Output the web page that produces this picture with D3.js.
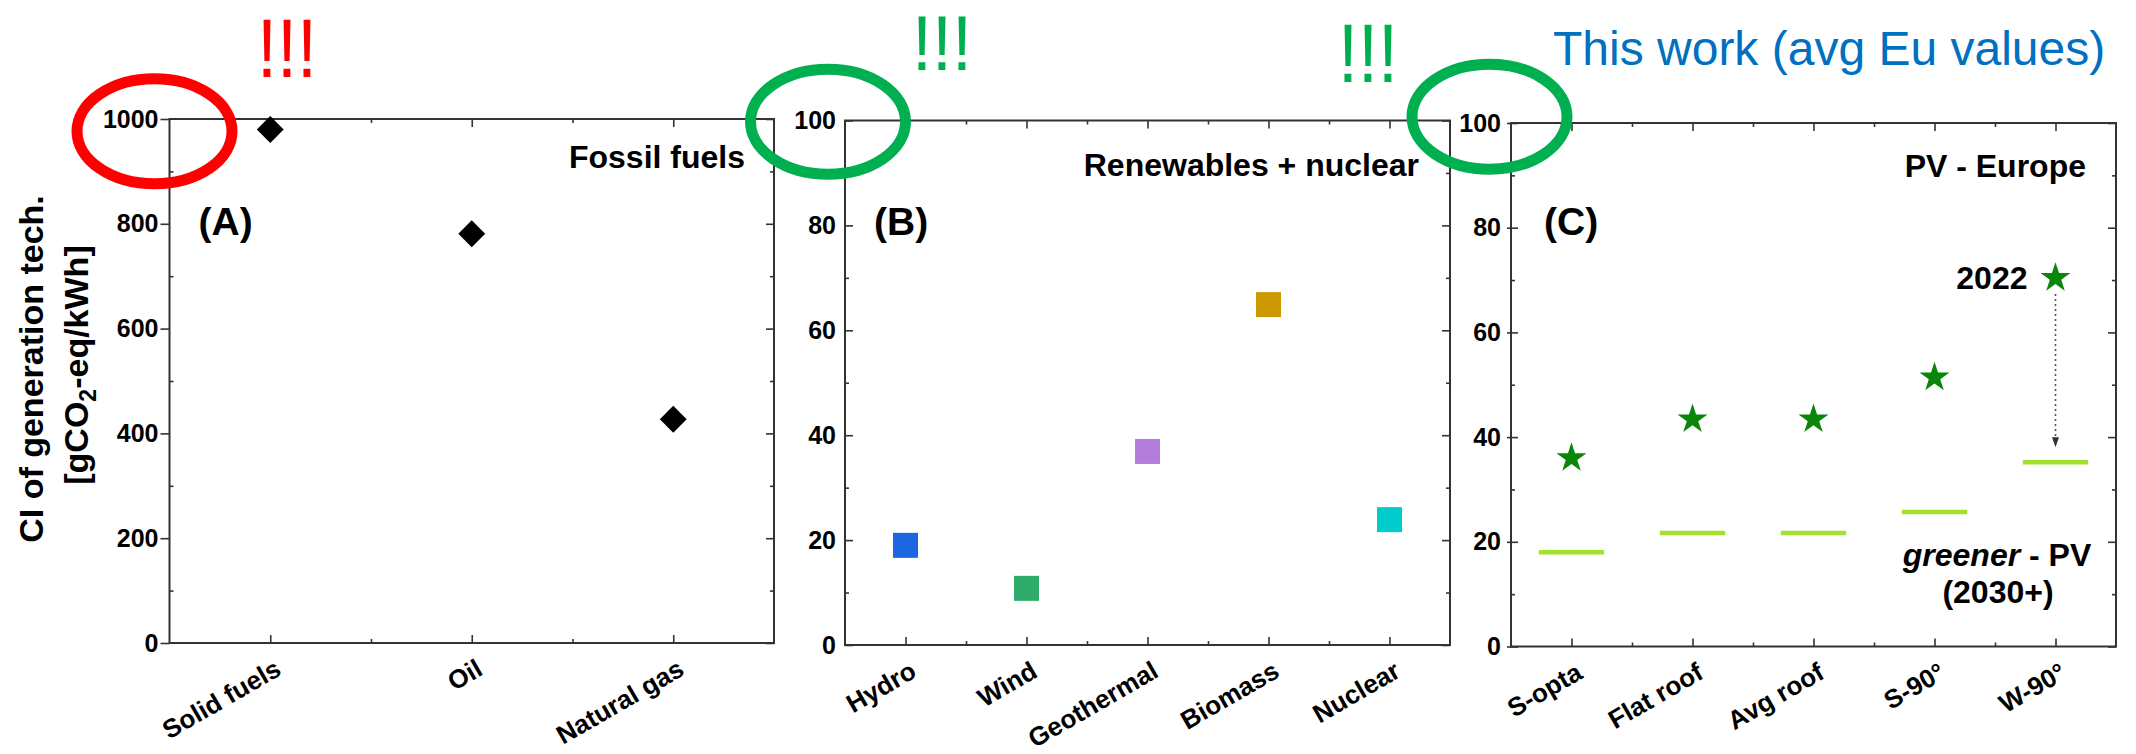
<!DOCTYPE html>
<html><head><meta charset="utf-8">
<script src="https://cdn.jsdelivr.net/npm/d3@7/dist/d3.min.js"></script>
<style>
body{margin:0;background:#fff}
svg{display:block}
text{font-family:"Liberation Sans",Arial,Helvetica,sans-serif}
</style>
</head><body>
<script>
// ---------------- data ----------------
const fossilCategories = ["Solid fuels", "Oil", "Natural gas"];
const fossilValues = [980, 781, 427];
const fossilTicks = [0, 200, 400, 600, 800, 1000];
const fossilMinorTicks = [100, 300, 500, 700, 900];

const renewCategories = ["Hydro", "Wind", "Geothermal", "Biomass", "Nuclear"];
const renewValues = [19.0, 10.8, 36.9, 64.9, 23.9];
const renewColors = ["#1a67df", "#2fac69", "#b27ddb", "#cc9900", "#00cccc"];

const pvCategories = ["S-opta", "Flat roof", "Avg roof", "S-90°", "W-90°"];
const pv2022Values = [36.0, 43.4, 43.4, 51.4, 70.4];
const pvGreenerValues = [18.0, 21.7, 21.7, 25.7, 35.2];

const pctTicks = [0, 20, 40, 60, 80, 100];
const pctMinorTicks = [10, 30, 50, 70, 90];

// ---------------- setup ----------------
const W = 2136, H = 754;
const svg = d3.select("body").append("svg").attr("width", W).attr("height", H);
const AXIS = "#333";

function makePanel(cfg) {
  const g = svg.append("g");
  const n = cfg.cats.length;
  const xi = d3.scaleLinear().domain([-0.5, n - 0.5]).range([cfg.x0, cfg.x1]);
  const y = d3.scaleLinear().domain(cfg.domain).range([cfg.yBot, cfg.yTop]);
  const majorX = d3.range(n);
  const minorX = d3.range(n - 1).map(i => i + 0.5);

  const style = sel => {
    sel.select(".domain").remove();
    sel.selectAll(".tick line").attr("stroke", AXIS).attr("stroke-width", 1.6);
    sel.attr("font-family", null).attr("font-size", null);
  };

  // bottom
  const gb = g.append("g").attr("transform", `translate(0,${cfg.yBot})`)
    .call(d3.axisBottom(xi).tickValues(majorX).tickSizeInner(-8).tickSizeOuter(0)
      .tickFormat(i => cfg.cats[i])).call(style);
  gb.selectAll(".tick text")
    .attr("x", 0).attr("y", 0).attr("dy", 0)
    .attr("text-anchor", "end")
    .attr("transform", "translate(12,31) rotate(-30)")
    .attr("font-size", 26).attr("font-weight", "bold").attr("fill", "#000");
  g.append("g").attr("transform", `translate(0,${cfg.yBot})`)
    .call(d3.axisBottom(xi).tickValues(minorX).tickSizeInner(-4).tickSizeOuter(0).tickFormat(""))
    .call(style);
  // top
  g.append("g").attr("transform", `translate(0,${cfg.yTop})`)
    .call(d3.axisTop(xi).tickValues(majorX).tickSizeInner(-8).tickSizeOuter(0).tickFormat(""))
    .call(style);
  g.append("g").attr("transform", `translate(0,${cfg.yTop})`)
    .call(d3.axisTop(xi).tickValues(minorX).tickSizeInner(-4).tickSizeOuter(0).tickFormat(""))
    .call(style);
  // left
  const gl = g.append("g").attr("transform", `translate(${cfg.x0},0)`)
    .call(d3.axisLeft(y).tickValues(cfg.ticks).tickSizeInner(cfg.leftMajor).tickSizeOuter(0)
      .tickPadding(cfg.leftPad).tickFormat(d3.format("d"))).call(style);
  gl.selectAll(".tick text").attr("font-size", 25).attr("font-weight", "bold").attr("fill", "#000");
  if (cfg.leftOut) {
    g.append("g").attr("transform", `translate(${cfg.x0},0)`)
      .call(d3.axisLeft(y).tickValues(cfg.ticks).tickSizeInner(cfg.leftOut).tickSizeOuter(0).tickFormat(""))
      .call(style);
  }
  g.append("g").attr("transform", `translate(${cfg.x0},0)`)
    .call(d3.axisLeft(y).tickValues(cfg.minor).tickSizeInner(-4).tickSizeOuter(0).tickFormat(""))
    .call(style);
  // right
  g.append("g").attr("transform", `translate(${cfg.x1},0)`)
    .call(d3.axisRight(y).tickValues(cfg.ticks).tickSizeInner(-8).tickSizeOuter(0).tickFormat(""))
    .call(style);
  g.append("g").attr("transform", `translate(${cfg.x1},0)`)
    .call(d3.axisRight(y).tickValues(cfg.minor).tickSizeInner(-4).tickSizeOuter(0).tickFormat(""))
    .call(style);
  // frame
  g.append("rect").attr("x", cfg.x0).attr("y", cfg.yTop)
    .attr("width", cfg.x1 - cfg.x0).attr("height", cfg.yBot - cfg.yTop)
    .attr("fill", "none").attr("stroke", AXIS).attr("stroke-width", 2);

  // panel letter and title
  g.append("text").attr("x", cfg.x0 + cfg.letterDx).attr("y", 235)
    .attr("font-size", 39).attr("font-weight", "bold").text(cfg.letter);
  g.append("text").attr("x", cfg.x1 - cfg.titleDx).attr("y", cfg.titleY)
    .attr("text-anchor", "end").attr("font-size", 32).attr("font-weight", "bold").text(cfg.title);
  return { g, xi, y };
}

// ---------------- panel A ----------------
const A = makePanel({
  cats: fossilCategories, x0: 169.5, x1: 774, yTop: 119, yBot: 643,
  domain: [0, 1000], ticks: fossilTicks, minor: fossilMinorTicks,
  leftMajor: 9, leftPad: 2, letter: "(A)", letterDx: 29,
  title: "Fossil fuels", titleDx: 29, titleY: 168
});
A.g.selectAll("path.fossil").data(fossilValues).join("path").attr("class", "fossil")
  .attr("d", d3.symbol(d3.symbolSquare, 361))
  .attr("transform", (d, i) => `translate(${A.xi(i)},${A.y(d)}) rotate(45)`)
  .attr("fill", "#000");

// ---------------- panel B ----------------
const B = makePanel({
  cats: renewCategories, x0: 845, x1: 1450, yTop: 120.5, yBot: 645,
  domain: [0, 100], ticks: pctTicks, minor: pctMinorTicks,
  leftMajor: -8, leftPad: 9, letter: "(B)", letterDx: 29,
  title: "Renewables + nuclear", titleDx: 31, titleY: 176
});
B.g.selectAll("path.renew").data(renewValues).join("path").attr("class", "renew")
  .attr("d", d3.symbol(d3.symbolSquare, 625))
  .attr("transform", (d, i) => `translate(${B.xi(i)},${B.y(d)})`)
  .attr("fill", (d, i) => renewColors[i]);

// ---------------- panel C ----------------
const C = makePanel({
  cats: pvCategories, x0: 1511, x1: 2116, yTop: 123, yBot: 646.5,
  domain: [0, 100], ticks: pctTicks, minor: pctMinorTicks,
  leftMajor: -7, leftOut: 4, leftPad: 10, letter: "(C)", letterDx: 33,
  title: "PV - Europe", titleDx: 30, titleY: 177
});
const half = (C.xi(1) - C.xi(0)) * 0.27;
C.g.selectAll("line.greener").data(pvGreenerValues).join("line").attr("class", "greener")
  .attr("x1", (d, i) => C.xi(i) - half).attr("x2", (d, i) => C.xi(i) + half)
  .attr("y1", d => C.y(d)).attr("y2", d => C.y(d))
  .attr("stroke", "#a2e22c").attr("stroke-width", 4.5);
C.g.selectAll("path.star").data(pv2022Values).join("path").attr("class", "star")
  .attr("d", d3.symbol(d3.symbolStar, 280))
  .attr("transform", (d, i) => `translate(${C.xi(i)},${C.y(d)})`)
  .attr("fill", "#0a860a");

// arrow from 2022 to greener on the last category
const li = pvCategories.length - 1;
const ax = C.xi(li), ay1 = C.y(pv2022Values[li]) + 16, ay2 = C.y(pvGreenerValues[li]) - 15;
C.g.append("line").attr("x1", ax).attr("x2", ax).attr("y1", ay1).attr("y2", ay2 - 9)
  .attr("stroke", "#555").attr("stroke-width", 1.6).attr("stroke-dasharray", "2,3");
C.g.append("path").attr("d", `M${ax - 3.5},${ay2 - 10}L${ax + 3.5},${ay2 - 10}L${ax},${ay2}Z`)
  .attr("fill", "#333");

C.g.append("text").attr("x", ax - 28).attr("y", C.y(pv2022Values[li]) + 11)
  .attr("text-anchor", "end").attr("font-size", 32).attr("font-weight", "bold").text("2022");
const gt = C.g.append("text").attr("x", 1997).attr("y", 566)
  .attr("text-anchor", "middle").attr("font-size", 32).attr("font-weight", "bold");
gt.append("tspan").attr("font-style", "italic").text("greener");
gt.append("tspan").text(" - PV");
C.g.append("text").attr("x", 1998).attr("y", 603)
  .attr("text-anchor", "middle").attr("font-size", 32).attr("font-weight", "bold").text("(2030+)");

// ---------------- y-axis title ----------------
svg.append("text").attr("transform", "translate(43,369) rotate(-90)")
  .attr("text-anchor", "middle").attr("font-size", 34).attr("font-weight", "bold")
  .text("CI of generation tech.");
const t2 = svg.append("text").attr("transform", "translate(88,365) rotate(-90)")
  .attr("text-anchor", "middle").attr("font-size", 34).attr("font-weight", "bold");
t2.append("tspan").text("[gCO");
t2.append("tspan").attr("font-size", 23).attr("dy", 8).text("2");
t2.append("tspan").attr("dy", -8).text("-eq/kWh]");

// ---------------- callouts ----------------
svg.append("text").attr("x", 1553).attr("y", 65).attr("font-size", 48)
  .attr("fill", "#0070c0").text("This work (avg Eu values)");

const bangs = [
  { x: 257, y: 77, f: 76, c: "#ff0000" },
  { x: 912, y: 70, f: 70, c: "#00b050" },
  { x: 1338, y: 82, f: 76, c: "#00b050" }
];
svg.selectAll("text.bang").data(bangs).join("text").attr("class", "bang")
  .attr("x", d => d.x).attr("y", d => d.y).attr("font-size", d => d.f)
  .attr("transform", d => `translate(${d.x},${d.y}) scale(1,1.1) translate(${-d.x},${-d.y})`)
  .attr("textLength", 60).attr("lengthAdjust", "spacingAndGlyphs")
  .attr("fill", d => d.c).text("!!!");

const rings = [
  { cx: 154.5, cy: 131.3, c: "#ff0000" },
  { cx: 828, cy: 121.7, c: "#00b050" },
  { cx: 1489.5, cy: 116.7, c: "#00b050" }
];
svg.selectAll("ellipse.ring").data(rings).join("ellipse").attr("class", "ring")
  .attr("cx", d => d.cx).attr("cy", d => d.cy).attr("rx", 77.5).attr("ry", 52.5)
  .attr("fill", "none").attr("stroke", d => d.c).attr("stroke-width", 11);
</script>
</body></html>
